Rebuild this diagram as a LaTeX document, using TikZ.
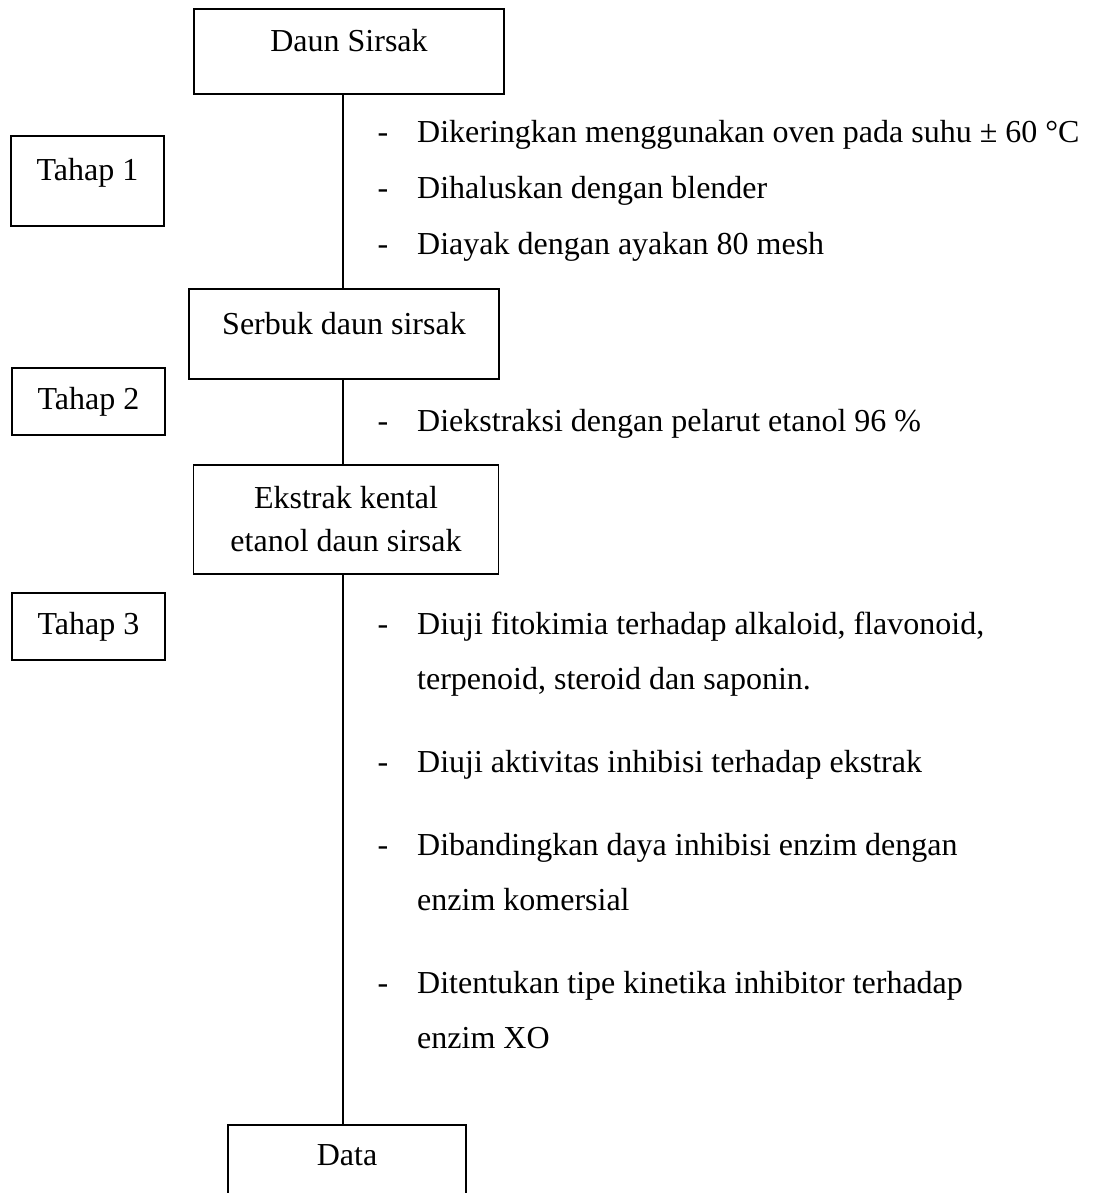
\documentclass[tikz,border=0pt]{standalone}
\usepackage{fontspec}
\setmainfont{Liberation Serif}
\usetikzlibrary{positioning}

\begin{document}
\begin{tikzpicture}[x=1pt, y=-1pt, every node/.style={font=\fontsize{32}{43}\selectfont},
  box/.style={draw, line width=1.3pt, align=center, inner sep=0pt},
  topbox/.style={box, text height=20pt, text depth=20pt},
  tahap/.style={box, minimum width=153pt},
  item/.style={anchor=base west, inner sep=0pt},
  bullet/.style={anchor=base, inner sep=0pt}]
  \useasboundingbox (0,0) rectangle (1092,1193);
  % main column
  \node[topbox, minimum width=310pt, minimum height=85pt] (daun) at (349, 51.5) {Daun Sirsak};
  \node[topbox, minimum width=310pt, minimum height=90pt] (serbuk) at (344, 334) {Serbuk daun sirsak};
  \node[box, minimum width=305pt, minimum height=109pt] (ekstrak) at (346, 519.5) {Ekstrak kental\\ etanol daun sirsak};
  \node[topbox, minimum width=238pt, minimum height=80pt] (data) at (347, 1165) {Data};
  % stages
  \node[tahap, topbox, minimum height=90pt] (tahap1) at (87.5, 181) {Tahap 1};
  \node[tahap, minimum height=67pt] (tahap2) at (88.5, 401.5) {Tahap 2};
  \node[tahap, minimum height=67pt] (tahap3) at (88.5, 626.5) {Tahap 3};
  % connectors
  \coordinate (spine) at (343, 0);
  \draw[line width=1.3pt] (spine |- daun.south) -- (spine |- serbuk.north);
  \draw[line width=1.3pt] (spine |- serbuk.south) -- (spine |- ekstrak.north);
  \draw[line width=1.3pt] (spine |- ekstrak.south) -- (spine |- data.north);
  % step 1
  \node[bullet] (d1a) at (383, 143) {-};
  \node[item] (s1a) at (417, 143) {Dikeringkan menggunakan oven pada suhu ± 60 °C};
  \node[bullet] (d1b) at (383, 199) {-};
  \node[item] (s1b) at (417, 199) {Dihaluskan dengan blender};
  \node[bullet] (d1c) at (383, 254) {-};
  \node[item] (s1c) at (417, 254) {Diayak dengan ayakan 80 mesh};
  % step 2
  \node[bullet] (d2a) at (383, 431) {-};
  \node[item] (s2a) at (417, 431) {Diekstraksi dengan pelarut etanol 96 \%};
  % step 3
  \node[bullet] (d3a) at (383, 634) {-};
  \node[item] (s3a) at (417, 634) {Diuji fitokimia terhadap alkaloid, flavonoid,};
  \node[item] (s3a2) at (417, 689) {terpenoid, steroid dan saponin.};
  \node[bullet] (d3b) at (383, 772) {-};
  \node[item] (s3b) at (417, 772) {Diuji aktivitas inhibisi terhadap ekstrak};
  \node[bullet] (d3c) at (383, 855) {-};
  \node[item] (s3c) at (417, 855) {Dibandingkan daya inhibisi enzim dengan};
  \node[item] (s3c2) at (417, 910) {enzim komersial};
  \node[bullet] (d3d) at (383, 993) {-};
  \node[item] (s3d) at (417, 993) {Ditentukan tipe kinetika inhibitor terhadap};
  \node[item] (s3d2) at (417, 1048) {enzim XO};
\end{tikzpicture}
\end{document}
